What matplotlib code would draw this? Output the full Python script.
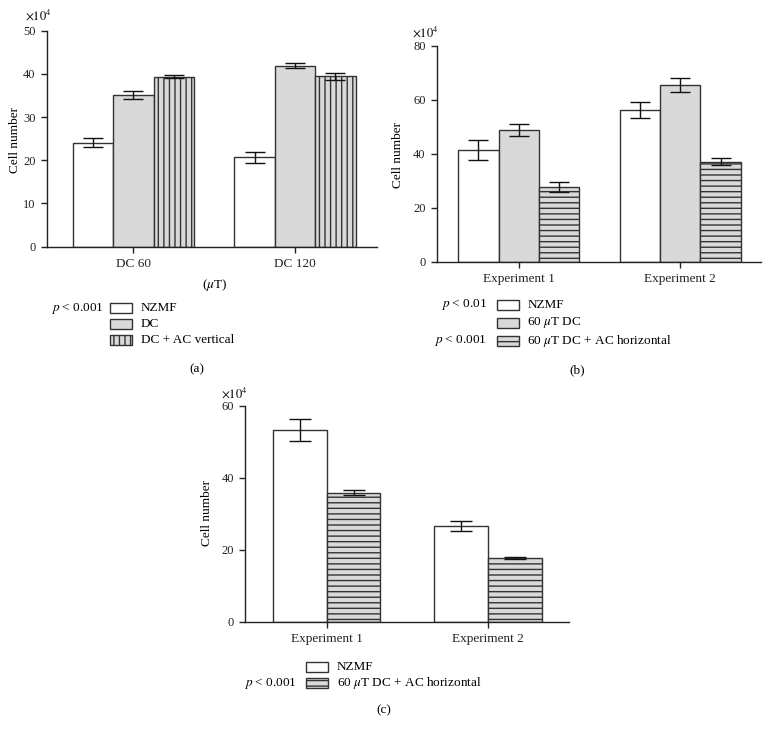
import matplotlib
matplotlib.use("Agg")
import matplotlib.pyplot as plt
from matplotlib.patches import Rectangle
import numpy as np

plt.rcParams['font.family'] = ['Liberation Serif', 'DejaVu Serif']
plt.rcParams['mathtext.fontset'] = 'stix'
plt.rcParams['hatch.linewidth'] = 1.0

# ---- data (cell number, x10^4) ----
groupsA = ['DC 60', 'DC 120']
nzmfA = [24.1, 20.7]
nzmfA_err = [1.0, 1.3]
dcA = [35.2, 41.9]
dcA_err = [0.95, 0.55]
dcacA = [39.35, 39.4]
dcacA_err = [0.3, 0.8]

groupsB = ['Experiment 1', 'Experiment 2']
nzmfB = [41.4, 56.3]
nzmfB_err = [3.8, 3.0]
dcB = [48.8, 65.5]
dcB_err = [2.1, 2.5]
dcacB = [27.8, 37.1]
dcacB_err = [1.8, 1.3]

groupsC = ['Experiment 1', 'Experiment 2']
nzmfC = [53.3, 26.6]
nzmfC_err = [3.0, 1.5]
dcacC = [35.9, 17.8]
dcacC_err = [0.65, 0.3]

W, H = 770, 735
fig = plt.figure(figsize=(W / 100, H / 100), dpi=100)

WHITE = 'white'
GRAY = '#d9d9d9'
EDGE = '#333333'
FS = 9.0     # tick labels
LFS = 9.5    # other text


def fx(px):
    return px / W


def fy(py):
    return 1 - py / H


def make_axes(left, right, top, bottom):
    ax = fig.add_axes([fx(left), fy(bottom), (right - left) / W, (bottom - top) / H])
    for s in ['top', 'right']:
        ax.spines[s].set_visible(False)
    for s in ['left', 'bottom']:
        ax.spines[s].set_linewidth(1.0)
        ax.spines[s].set_color('#222222')
    ax.tick_params(direction='out', length=4.5, width=1.0, labelsize=FS, colors='#222222')
    ax.tick_params(axis='x', labelsize=LFS)
    return ax


def draw_bars(ax, x, vals, errs, width, color, hatch, capsize):
    ax.bar(x, vals, width, color=color, edgecolor=EDGE, linewidth=1.0, hatch=hatch, zorder=2)
    ax.errorbar(x, vals, yerr=errs, fmt='none', ecolor='#111111', elinewidth=1.0,
                capsize=capsize, capthick=1.0, zorder=3)


def legend_box(px, py, color, hatch):
    r = Rectangle((fx(px), fy(py + 5)), 22 / W, 10 / H, transform=fig.transFigure,
                  facecolor=color, edgecolor=EDGE, linewidth=1.0, hatch=hatch)
    fig.patches.append(r)


# ---- panel (a) ----
axA = make_axes(46.7, 377, 30.7, 246.7)
xa = np.arange(len(groupsA))
wa = 0.25
draw_bars(axA, xa - wa, nzmfA, nzmfA_err, wa, WHITE, None, 7)
draw_bars(axA, xa, dcA, dcA_err, wa, GRAY, None, 7)
draw_bars(axA, xa + wa, dcacA, dcacA_err, wa, GRAY, '|||', 7)
axA.set_xlim(-0.536, 1.507)
axA.set_ylim(0, 50)
axA.set_yticks([0, 10, 20, 30, 40, 50])
axA.set_xticks(xa, groupsA)
fig.text(fx(38), fy(15), r'$\times10^{4}$', fontsize=FS, ha='center', va='center')
fig.text(fx(15), fy(140), 'Cell number', fontsize=LFS, rotation=90, ha='center', va='center')
fig.text(fx(215), fy(285), r'($\mu$T)', fontsize=LFS, ha='center', va='center')

fig.text(fx(104), fy(308), r'$p$ < 0.001', fontsize=LFS, ha='right', va='center')
labelsA = ['NZMF', 'DC', 'DC + AC vertical']
colsA = [(WHITE, None), (GRAY, None), (GRAY, '|||')]
for i, (lab, (c, h)) in enumerate(zip(labelsA, colsA)):
    yy = 308 + i * 16
    legend_box(110, yy, c, h)
    fig.text(fx(140.7), fy(yy), lab, fontsize=LFS, ha='left', va='center')
fig.text(fx(197), fy(369), '(a)', fontsize=LFS, ha='center', va='center')

# ---- panel (b) ----
axB = make_axes(436.7, 761, 46, 261.7)
xb = np.arange(len(groupsB))
wb = 0.25
draw_bars(axB, xb - wb, nzmfB, nzmfB_err, wb, WHITE, None, 7)
draw_bars(axB, xb, dcB, dcB_err, wb, GRAY, None, 7)
draw_bars(axB, xb + wb, dcacB, dcacB_err, wb, GRAY, '---', 7)
axB.set_xlim(-0.508, 1.50)
axB.set_ylim(0, 80)
axB.set_yticks([0, 20, 40, 60, 80])
axB.set_xticks(xb, groupsB)
fig.text(fx(425), fy(32), r'$\times10^{4}$', fontsize=FS, ha='center', va='center')
fig.text(fx(398), fy(155), 'Cell number', fontsize=LFS, rotation=90, ha='center', va='center')

fig.text(fx(487), fy(305), r'$p$ < 0.01', fontsize=LFS, ha='right', va='center')
fig.text(fx(487), fy(340.7), r'$p$ < 0.001', fontsize=LFS, ha='right', va='center')
labelsB = ['NZMF', r'60 $\mu$T DC', r'60 $\mu$T DC + AC horizontal']
colsB = [(WHITE, None), (GRAY, None), (GRAY, '---')]
for i, (lab, (c, h)) in enumerate(zip(labelsB, colsB)):
    yy = 305 + i * 17.85
    legend_box(496.7, yy, c, h)
    fig.text(fx(527.3), fy(yy), lab, fontsize=LFS, ha='left', va='center')
fig.text(fx(577), fy(370), '(b)', fontsize=LFS, ha='center', va='center')

# ---- panel (c) ----
axC = make_axes(245, 569, 406, 621.7)
xc = np.arange(len(groupsC))
wc = 1 / 3
draw_bars(axC, xc - wc / 2, nzmfC, nzmfC_err, wc, WHITE, None, 8)
draw_bars(axC, xc + wc / 2, dcacC, dcacC_err, wc, GRAY, '---', 8)
axC.set_xlim(-0.505, 1.50)
axC.set_ylim(0, 60)
axC.set_yticks([0, 20, 40, 60])
axC.set_xticks(xc, groupsC)
fig.text(fx(234), fy(393), r'$\times10^{4}$', fontsize=FS, ha='center', va='center')
fig.text(fx(207), fy(513), 'Cell number', fontsize=LFS, rotation=90, ha='center', va='center')

fig.text(fx(297), fy(683.3), r'$p$ < 0.001', fontsize=LFS, ha='right', va='center')
labelsC = ['NZMF', r'60 $\mu$T DC + AC horizontal']
colsC = [(WHITE, None), (GRAY, '---')]
for i, (lab, (c, h)) in enumerate(zip(labelsC, colsC)):
    yy = 666.7 + i * 16.6
    legend_box(305.7, yy, c, h)
    fig.text(fx(336.7), fy(yy), lab, fontsize=LFS, ha='left', va='center')
fig.text(fx(384), fy(710), '(c)', fontsize=LFS, ha='center', va='center')

fig.savefig('out.png', dpi=100, facecolor='white')
